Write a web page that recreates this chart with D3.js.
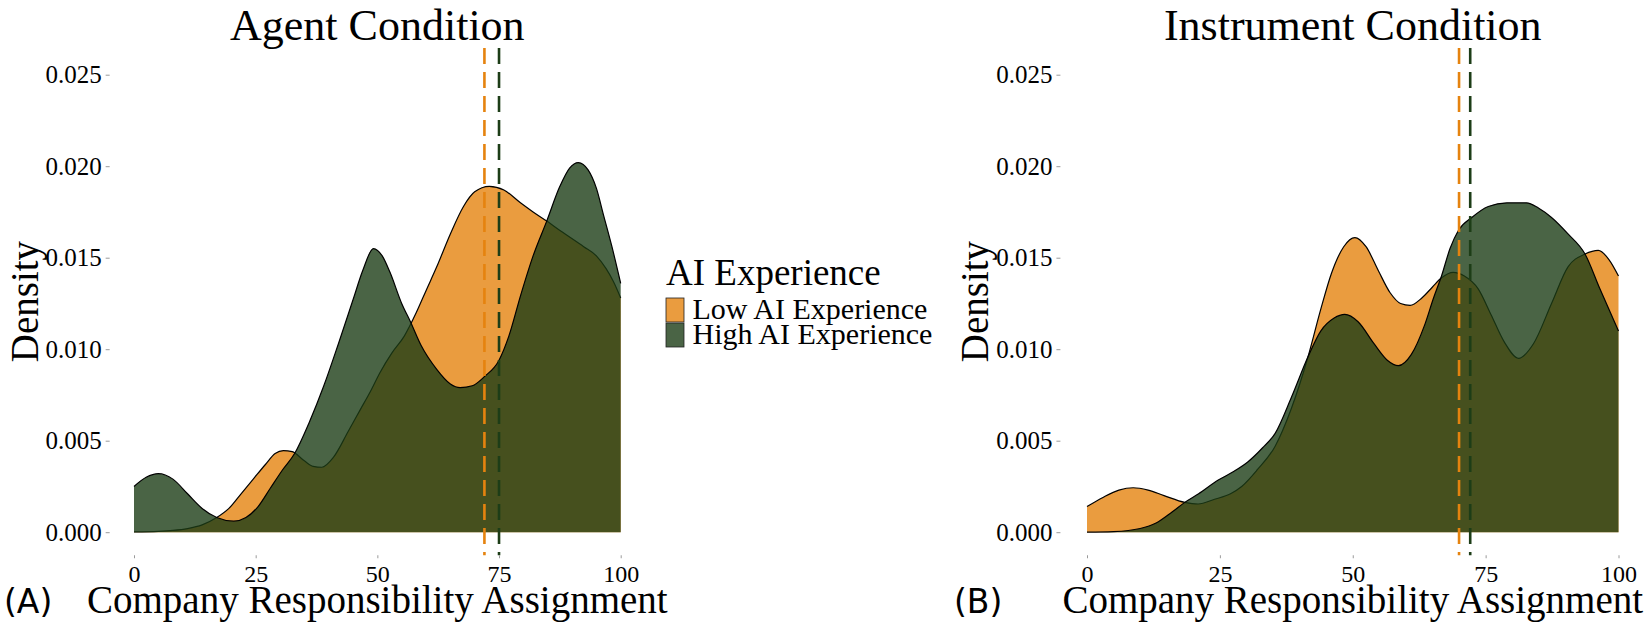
<!DOCTYPE html>
<html>
<head>
<meta charset="utf-8">
<script src="https://cdn.jsdelivr.net/npm/d3@7"></script>
<style>
  html, body { margin: 0; padding: 0; background: #fff; }
  svg { display: block; }
  text { font-family: "Liberation Serif", serif; fill: #000; }
</style>
</head>
<body>
<svg id="chart" width="1649" height="626"></svg>
<script>
// ---------------- data ----------------
const xTicks = [0, 25, 50, 75, 100];
const yTicks = [0, 0.005, 0.010, 0.015, 0.020, 0.025];
const groups = ["Low AI Experience", "High AI Experience"];
const panelTitles = ["Agent Condition", "Instrument Condition"];
const panelTags = ["(A)", "(B)"];

// density curves: [score, density]
const agentLow = [[0,0.00002],[5,0.00005],[8,0.0001],[11,0.0002],[14,0.0004],[17,0.0008],[19.5,0.0013],[22,0.0021],[24.5,0.0029],[27,0.0037],[29,0.0043],[30.7,0.00446],[32.5,0.0044],[35,0.0039],[36.8,0.0036],[38.6,0.00355],[41,0.0041],[44,0.0055],[46.5,0.0067],[48.6,0.0077],[50.5,0.0087],[53,0.0098],[55.5,0.0107],[58,0.0120],[60,0.0132],[62.2,0.0145],[65,0.0163],[67.7,0.0178],[70,0.0186],[73,0.0189],[76,0.0187],[79.4,0.0180],[82,0.0175],[84.8,0.0170],[88,0.0164],[92.4,0.0156],[95,0.0151],[97,0.0144],[98.5,0.0137],[100,0.0128]];
const agentHigh = [[0,0.0025],[2.5,0.0030],[5,0.0032],[8,0.0029],[11,0.0021],[14,0.0013],[17,0.0008],[20.5,0.0006],[23,0.0008],[25.5,0.0014],[28,0.0024],[30.5,0.0034],[33,0.0043],[36,0.0060],[39,0.0080],[42,0.0103],[45,0.0127],[47,0.0143],[49.2,0.0155],[51,0.0151],[52.6,0.0142],[55,0.0125],[56.8,0.0115],[59,0.0102],[62.2,0.0089],[65,0.0081],[67,0.0079],[69.5,0.0080],[72,0.0085],[75,0.0094],[77,0.0107],[79.5,0.0130],[82,0.0151],[84.8,0.0170],[87.5,0.0189],[89.5,0.0199],[91.3,0.0202],[93.3,0.0198],[95,0.0188],[96.5,0.0173],[98.2,0.0156],[100,0.0136]];
const instrLow = [[0,0.0014],[3,0.0019],[6,0.0023],[8.7,0.00243],[11.5,0.0023],[14.5,0.0020],[18.4,0.00163],[20.9,0.00154],[24,0.0018],[27,0.0021],[29.1,0.0025],[32,0.0034],[35.4,0.0047],[38.5,0.0068],[41.6,0.0096],[44,0.0122],[46,0.01415],[48.3,0.0156],[50.4,0.0161],[52.5,0.0156],[54.8,0.0143],[57,0.0131],[59,0.0125],[60.8,0.0124],[63,0.0128],[65,0.0134],[66.7,0.0139],[68.9,0.0142],[71,0.0140],[73.6,0.0133],[76,0.0119],[78.5,0.0104],[81.2,0.0095],[84,0.0103],[87.4,0.0125],[90.5,0.0145],[93.7,0.0152],[96.2,0.0154],[98.2,0.0149],[100,0.0140]];
const instrHigh = [[0,0],[5,0.00003],[10,0.0002],[13,0.0005],[16,0.0011],[18.4,0.00163],[21,0.0021],[24.7,0.00285],[27.5,0.0033],[30.3,0.00385],[33,0.0046],[35.4,0.0054],[38.5,0.0074],[41.6,0.0096],[44,0.0110],[46.5,0.0117],[48.5,0.0119],[51,0.0115],[54,0.0103],[56.5,0.0094],[58.6,0.0091],[61,0.0097],[63.5,0.0113],[65.2,0.0128],[66.7,0.0140],[68.3,0.0155],[69.9,0.0165],[72.4,0.0172],[75.5,0.0178],[79,0.0180],[82.7,0.0180],[85,0.0177],[87.4,0.0172],[90.5,0.0163],[93.7,0.0152],[96.5,0.0133],[100,0.0110]];

// group means (dashed lines)
const agentMeans = [72.0, 75.0];
const instrMeans = [70.0, 72.1];

// ---------------- style / layout ----------------
const colors = ["#E5830F", "#1D3D17"];
const fillAlpha = 0.8;
const yRange = [532.2, 74.7];
const yExpand = [-0.00126, 0.02646];
const xExpand = [-5, 105];

const panels = [
  { x0: 134, x1: 620.7, series: [agentLow, agentHigh], means: agentMeans, title: panelTitles[0], tag: panelTags[0], densX: 38, tagX: 4 },
  { x0: 1087, x1: 1618.5, series: [instrLow, instrHigh], means: instrMeans, title: panelTitles[1], tag: panelTags[1], densX: 988, tagX: 954 }
];

const svg = d3.select("#chart");
const y = d3.scaleLinear().domain([0, 0.025]).range(yRange);

panels.forEach(p => {
  const x = d3.scaleLinear().domain([0, 100]).range([p.x0, p.x1]);
  const g = svg.append("g");
  const left = x(xExpand[0]), right = x(xExpand[1]);
  const top = y(yExpand[1]), bottom = y(yExpand[0]);
  const cx = (left + right) / 2;

  const area = d3.area().x(d => x(d[0])).y0(y(0)).y1(d => y(d[1])).curve(d3.curveMonotoneX);
  const line = d3.line().x(d => x(d[0])).y(d => y(d[1])).curve(d3.curveMonotoneX);

  p.series.forEach((s, i) => {
    g.append("path").attr("d", area(s)).attr("fill", colors[i]).attr("fill-opacity", fillAlpha);
    g.append("path").attr("d", line(s)).attr("fill", "none").attr("stroke", "#000").attr("stroke-width", 1.2);
  });

  p.means.forEach((m, i) => {
    g.append("line")
      .attr("x1", x(m)).attr("x2", x(m))
      .attr("y1", top).attr("y2", bottom)
      .attr("stroke", colors[i]).attr("stroke-width", 2.6)
      .attr("stroke-dasharray", "16,8");
  });

  // y axis
  const ya = g.append("g").attr("transform", `translate(${left},0)`)
    .call(d3.axisLeft(y).tickValues(yTicks).tickFormat(d3.format(".3f")).tickSize(4).tickPadding(4));
  ya.select(".domain").remove();
  ya.selectAll(".tick line").attr("stroke", "#9a9a9a").attr("stroke-width", 1);
  ya.selectAll(".tick text").attr("font-family", "Liberation Serif").attr("font-size", 25).attr("fill", "#000");

  // x axis
  const xa = g.append("g").attr("transform", `translate(0,${bottom})`)
    .call(d3.axisBottom(x).tickValues(xTicks).tickFormat(d3.format("d")).tickSize(3).tickPadding(7));
  xa.select(".domain").remove();
  xa.selectAll(".tick line").attr("stroke", "#9a9a9a").attr("stroke-width", 1);
  xa.selectAll(".tick text").attr("font-family", "Liberation Serif").attr("font-size", 24).attr("fill", "#000");

  // titles
  g.append("text").attr("x", cx).attr("y", 40).attr("text-anchor", "middle")
    .attr("font-size", 44).text(p.title);
  g.append("text").attr("x", cx).attr("y", 613).attr("text-anchor", "middle")
    .attr("font-size", 39).text("Company Responsibility Assignment");
  g.append("text").attr("transform", `translate(${p.densX},${(top + bottom) / 2}) rotate(-90)`)
    .attr("text-anchor", "middle").attr("font-size", 39).text("Density");
  g.append("text").attr("x", p.tagX).attr("y", 613)
    .style("font-family", "'DejaVu Sans', sans-serif").attr("font-size", 33).text(p.tag);
});

// legend
const lg = svg.append("g");
lg.append("text").attr("x", 666).attr("y", 285).attr("font-size", 37).text("AI Experience");
groups.forEach((name, i) => {
  lg.append("rect").attr("x", 666).attr("y", 298 + i * 25).attr("width", 18).attr("height", 24)
    .attr("fill", colors[i]).attr("fill-opacity", fillAlpha).attr("stroke", "#222").attr("stroke-width", 0.8);
  lg.append("text").attr("x", 692.5).attr("y", 319 + i * 24.5).attr("font-size", 30).text(name);
});
</script>
</body>
</html>
